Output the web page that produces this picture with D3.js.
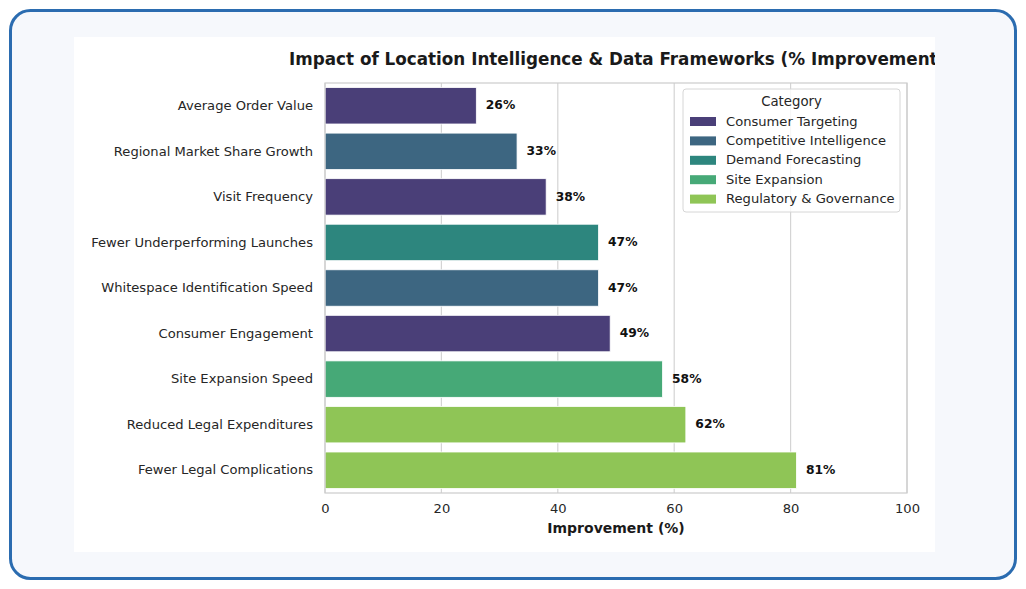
<!DOCTYPE html>
<html>
<head>
<meta charset="utf-8">
<script src="https://cdn.jsdelivr.net/npm/d3@7"></script>
<style>
  html, body { margin: 0; padding: 0; background: #ffffff; }
  svg { display: block; font-family: "DejaVu Sans", sans-serif; }
</style>
</head>
<body>
<div id="chart"></div>
<script>
// Chart data
const metrics = [
  "Average Order Value",
  "Regional Market Share Growth",
  "Visit Frequency",
  "Fewer Underperforming Launches",
  "Whitespace Identification Speed",
  "Consumer Engagement",
  "Site Expansion Speed",
  "Reduced Legal Expenditures",
  "Fewer Legal Complications"
];
const improvements = [26, 33, 38, 47, 47, 49, 58, 62, 81];
const metricCategory = [
  "Consumer Targeting",
  "Competitive Intelligence",
  "Consumer Targeting",
  "Demand Forecasting",
  "Competitive Intelligence",
  "Consumer Targeting",
  "Site Expansion",
  "Regulatory & Governance",
  "Regulatory & Governance"
];
const categories = [
  "Consumer Targeting",
  "Competitive Intelligence",
  "Demand Forecasting",
  "Site Expansion",
  "Regulatory & Governance"
];
const xTicks = [0, 20, 40, 60, 80, 100];

const categoryColors = ["#4a3f78", "#3d6681", "#2d867e", "#46a977", "#8fc556"];

const width = 1026, height = 589;

const svg = d3.select("#chart")
  .append("svg")
  .attr("width", width)
  .attr("height", height);

// Outer card
svg.append("rect")
  .attr("x", 10.5).attr("y", 10.5)
  .attr("width", 1005).attr("height", 568)
  .attr("rx", 20).attr("ry", 20)
  .attr("fill", "#f6f8fc")
  .attr("stroke", "#2b6cb0")
  .attr("stroke-width", 3);

// White figure area
svg.append("rect")
  .attr("x", 74).attr("y", 37)
  .attr("width", 861).attr("height", 515)
  .attr("fill", "#ffffff");

// Clip for the title (cut at the figure edge)
svg.append("clipPath").attr("id", "figclip")
  .append("rect").attr("x", 74).attr("y", 37).attr("width", 861).attr("height", 515);

const plot = { left: 325, right: 907, top: 83, bottom: 493 };

const x = d3.scaleLinear().domain([0, 100]).range([plot.left, plot.right]);
const y = d3.scaleBand().domain(metrics).range([plot.top, plot.bottom]).paddingInner(0.2).paddingOuter(0.1);
const color = d3.scaleOrdinal().domain(categories).range(categoryColors);

// Grid lines
svg.append("g")
  .selectAll("line")
  .data(xTicks)
  .enter()
  .append("line")
  .attr("x1", d => x(d)).attr("x2", d => x(d))
  .attr("y1", plot.top).attr("y2", plot.bottom)
  .attr("stroke", "#d4d4d4")
  .attr("stroke-width", 1.2);

// Bars
svg.append("g")
  .selectAll("rect")
  .data(metrics)
  .enter()
  .append("rect")
  .attr("x", x(0))
  .attr("y", d => y(d))
  .attr("width", (d, i) => x(improvements[i]) - x(0))
  .attr("height", y.bandwidth())
  .attr("fill", (d, i) => color(metricCategory[i]))
  .attr("stroke", "#ffffff")
  .attr("stroke-width", 0.8);

// Value labels
svg.append("g")
  .selectAll("text")
  .data(metrics)
  .enter()
  .append("text")
  .attr("x", (d, i) => x(improvements[i]) + 9.5)
  .attr("y", d => y(d) + y.bandwidth() / 2)
  .attr("dy", "0.3em")
  .attr("font-size", 12.3)
  .attr("font-weight", "bold")
  .attr("fill", "#111")
  .text((d, i) => improvements[i] + "%");

// Plot frame
svg.append("rect")
  .attr("x", plot.left).attr("y", plot.top)
  .attr("width", plot.right - plot.left).attr("height", plot.bottom - plot.top)
  .attr("fill", "none")
  .attr("stroke", "#cccccc")
  .attr("stroke-width", 1.2);

// Y axis labels
const yAxis = svg.append("g")
  .attr("transform", `translate(${plot.left},0)`)
  .call(d3.axisLeft(y).tickSize(0).tickPadding(12));
yAxis.select(".domain").remove();
yAxis.selectAll("text").attr("font-size", 13.1).attr("fill", "#262626").attr("font-family", "DejaVu Sans");

// X axis labels
const xAxis = svg.append("g")
  .attr("transform", `translate(0,${plot.bottom})`)
  .call(d3.axisBottom(x).tickValues(xTicks).tickSize(0).tickPadding(11));
xAxis.select(".domain").remove();
xAxis.selectAll("text").attr("font-size", 13.1).attr("fill", "#262626").attr("font-family", "DejaVu Sans");

// Axis title
svg.append("text")
  .attr("x", (plot.left + plot.right) / 2)
  .attr("y", 533)
  .attr("text-anchor", "middle")
  .attr("font-size", 14)
  .attr("font-weight", "bold")
  .attr("fill", "#1a1a1a")
  .text("Improvement (%)");

// Chart title (clipped at figure edge)
svg.append("text")
  .attr("clip-path", "url(#figclip)")
  .attr("x", 289)
  .attr("y", 65)
  .attr("font-size", 16.8)
  .attr("font-weight", "bold")
  .attr("fill", "#1a1a1a")
  .text("Impact of Location Intelligence & Data Frameworks (% Improvement)");

// Legend
const legend = svg.append("g").attr("transform", "translate(683,89)");
legend.append("rect")
  .attr("width", 217).attr("height", 123)
  .attr("rx", 3)
  .attr("fill", "#ffffff").attr("fill-opacity", 0.8)
  .attr("stroke", "#d6d6d6");
legend.append("text")
  .attr("x", 108.5).attr("y", 17)
  .attr("text-anchor", "middle")
  .attr("font-size", 13.3)
  .attr("fill", "#262626")
  .text("Category");

const items = legend.selectAll(".legend-item")
  .data(categories)
  .enter()
  .append("g")
  .attr("class", "legend-item")
  .attr("transform", (d, i) => `translate(0, ${31 + i * 19.4})`);
items.append("rect")
  .attr("x", 7).attr("y", -3)
  .attr("width", 26).attr("height", 9)
  .attr("fill", d => color(d));
items.append("text")
  .attr("x", 43).attr("y", 1)
  .attr("dy", "0.35em")
  .attr("font-size", 13.1)
  .attr("fill", "#262626")
  .text(d => d);
</script>
</body>
</html>
